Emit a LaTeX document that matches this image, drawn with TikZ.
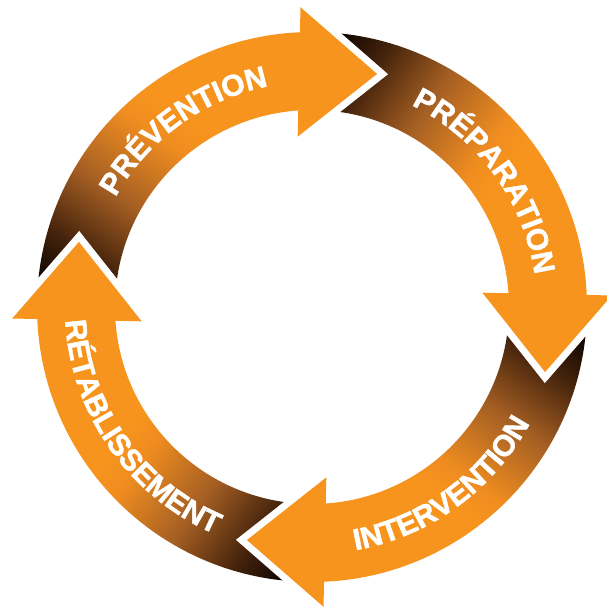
\documentclass[tikz,border=0pt]{standalone}
\usepackage{fontspec}
\newfontfamily\arrfont{Liberation Sans}[BoldFeatures={FakeBold=1.6}]
\usetikzlibrary{decorations.text}
\definecolor{org}{RGB}{247,148,30}
\definecolor{blk}{RGB}{12,4,0}
\definecolor{dbr}{RGB}{70,36,12}
\definecolor{mbr}{RGB}{165,95,35}
\definecolor{lor}{RGB}{238,140,32}
\pgfdeclarehorizontalshading{arrowgrad}{100bp}{color(0bp)=(blk); color(38.75bp)=(blk); color(42.9bp)=(dbr); color(48.3bp)=(mbr); color(54.2bp)=(lor); color(56.7bp)=(org); color(100bp)=(org)}
\tikzset{
  arrtext/.style={decorate, decoration={text along path, text align=center,
    text={|\arrfont\bfseries\fontsize{30}{30}\selectfont\color{white}|#1}}},
  headborder/.style={white, line width=14pt, line join=miter, miter limit=10},
  headfill/.style={fill=org}
}
\begin{document}
\begin{tikzpicture}[x=1pt,y=1pt]
\useasboundingbox (-312,-306) rectangle (294,307);
% bodies with gradient
\foreach \k in {0,1,2,3}{
  \pgfmathsetmacro\r{-90*\k}
  \begin{scope}
    \clip ({\r+178}:275) arc[start angle=\r+178, end angle=\r+91, radius=275]
      -- ({\r+91}:197) arc[start angle=\r+91, end angle=\r+178, radius=197] -- cycle;
    \begin{scope}[transform canvas={rotate=\r+55}]
      \shade[shading=arrowgrad] (-300,-300) rectangle (300,300);
    \end{scope}
  \end{scope}
}
% heads
\foreach \k in {0,1,2,3}{
  \pgfmathsetmacro\r{-90*\k}
  \draw[headborder] ({\r+92.2}:300) -- ({\r+74.4}:242) -- ({\r+94.8}:171);
  \path[headfill] ({\r+92.2}:300) -- ({\r+74.4}:242) -- ({\r+94.8}:171) -- cycle;
}
% labels
\path[arrtext=PRÉVENTION] (160:225) arc[start angle=160, end angle=92, radius=225];
\path[arrtext=PRÉPARATION] (70:225) arc[start angle=70, end angle=2, radius=225];
\path[arrtext=INTERVENTION] (-94:247) arc[start angle=-94, end angle=-14, radius=247];
\path[arrtext=RÉTABLISSEMENT] (175:247) arc[start angle=175, end angle=255, radius=247];
\end{tikzpicture}
\end{document}
